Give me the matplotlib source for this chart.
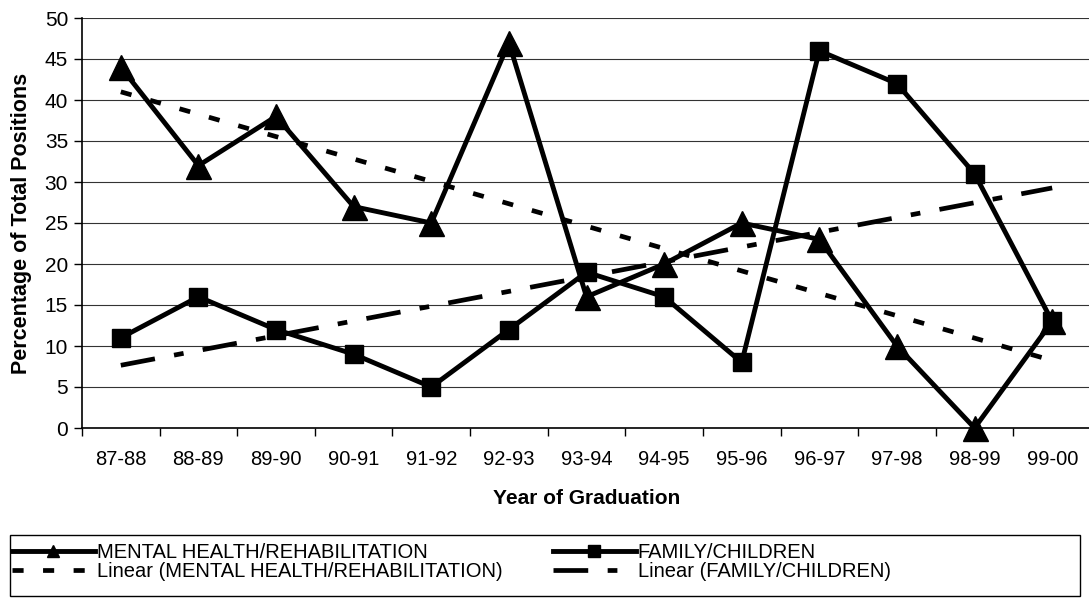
import numpy as np
import matplotlib
matplotlib.use("Agg")
import matplotlib.pyplot as plt
from matplotlib.lines import Line2D
from matplotlib.patches import Rectangle

plt.rcParams['font.family'] = ['Liberation Sans', 'DejaVu Sans']
plt.rcParams['lines.scale_dashes'] = False

years = ["87-88", "88-89", "89-90", "90-91", "91-92", "92-93", "93-94",
         "94-95", "95-96", "96-97", "97-98", "98-99", "99-00"]
mental_health = [44, 32, 38, 27, 25, 47, 16, 20, 25, 23, 10, 0, 13]
family_children = [11, 16, 12, 9, 5, 12, 19, 16, 8, 46, 42, 31, 13]
y_ticks = [0, 5, 10, 15, 20, 25, 30, 35, 40, 45, 50]

W, H = 1089, 605
fig = plt.figure(figsize=(W / 100, H / 100), dpi=100)
ax = fig.add_axes([82 / W, 1 - 428 / H, (1091 - 82) / W, (428 - 18) / H])

x = np.arange(len(years))

MH_TREND_DASH = (8, 14)
FC_TREND_DASH = (25, 14, 7, 14)

# linear trend lines (least squares, as in the spreadsheet)
mh_fit = np.polyfit(x, mental_health, 1)
fc_fit = np.polyfit(x, family_children, 1)
ax.plot(x, np.polyval(mh_fit, x), color='black', lw=3.4,
        dashes=MH_TREND_DASH, zorder=2)
ax.plot(x, np.polyval(fc_fit, x), color='black', lw=3.4,
        dashes=FC_TREND_DASH, zorder=2)

ax.plot(x, mental_health, color='black', lw=3.5, marker='^', ms=18,
        zorder=3, clip_on=False)
ax.plot(x, family_children, color='black', lw=3.5, marker='s', ms=13.5,
        zorder=3, clip_on=False)

ax.set_xlim(-0.5, len(years) - 0.5)
ax.set_ylim(0, 50)
ax.set_yticks(y_ticks)
ax.yaxis.grid(True, color='#333333', lw=0.8)
ax.set_axisbelow(True)

# category labels in the middle, tick marks at the boundaries
ax.set_xticks(np.arange(-0.5, len(years), 1.0))
ax.set_xticklabels([])
ax.set_xticks(x, minor=True)
ax.set_xticklabels(years, minor=True, fontsize=14.5)
ax.tick_params(axis='x', which='major', direction='out', length=6, width=1)
ax.tick_params(axis='x', which='minor', length=0, pad=16)
ax.tick_params(axis='y', direction='out', length=6, width=1, labelsize=15, pad=4)

for s in ['top', 'right']:
    ax.spines[s].set_visible(False)
for s in ['left', 'bottom']:
    ax.spines[s].set_linewidth(1.2)

ax.set_ylabel("Percentage of Total Positions", fontsize=15.5, fontweight='bold',
              labelpad=9)
ax.set_xlabel("Year of Graduation", fontsize=15, fontweight='bold', labelpad=14)

# legend
h_mh = Line2D([], [], color='black', lw=3.5, marker='^', ms=9)
h_mhl = Line2D([], [], color='black', lw=3.4, dashes=MH_TREND_DASH)
h_fc = Line2D([], [], color='black', lw=3.5, marker='s', ms=8)
h_fcl = Line2D([], [], color='black', lw=3.4, dashes=FC_TREND_DASH)

fs_leg = 14.5
common = dict(loc='upper left', frameon=False, fontsize=fs_leg,
              handlelength=4.1, handletextpad=0.1, borderpad=0,
              borderaxespad=0, labelspacing=0.0)
fig.legend([h_mh, h_mhl], ["MENTAL HEALTH/REHABILITATION",
                           "Linear (MENTAL HEALTH/REHABILITATION)"],
           bbox_to_anchor=(12 / W, 1 - 543 / H), **common)
fig.legend([h_fc, h_fcl], ["FAMILY/CHILDREN", "Linear (FAMILY/CHILDREN)"],
           bbox_to_anchor=(553 / W, 1 - 543 / H), **common)
fig.patches.append(Rectangle((10 / W, 1 - 596 / H), 1070 / W, 61 / H,
                             transform=fig.transFigure, fill=False,
                             ec='black', lw=1.0))

fig.savefig("out.png", dpi=100)
